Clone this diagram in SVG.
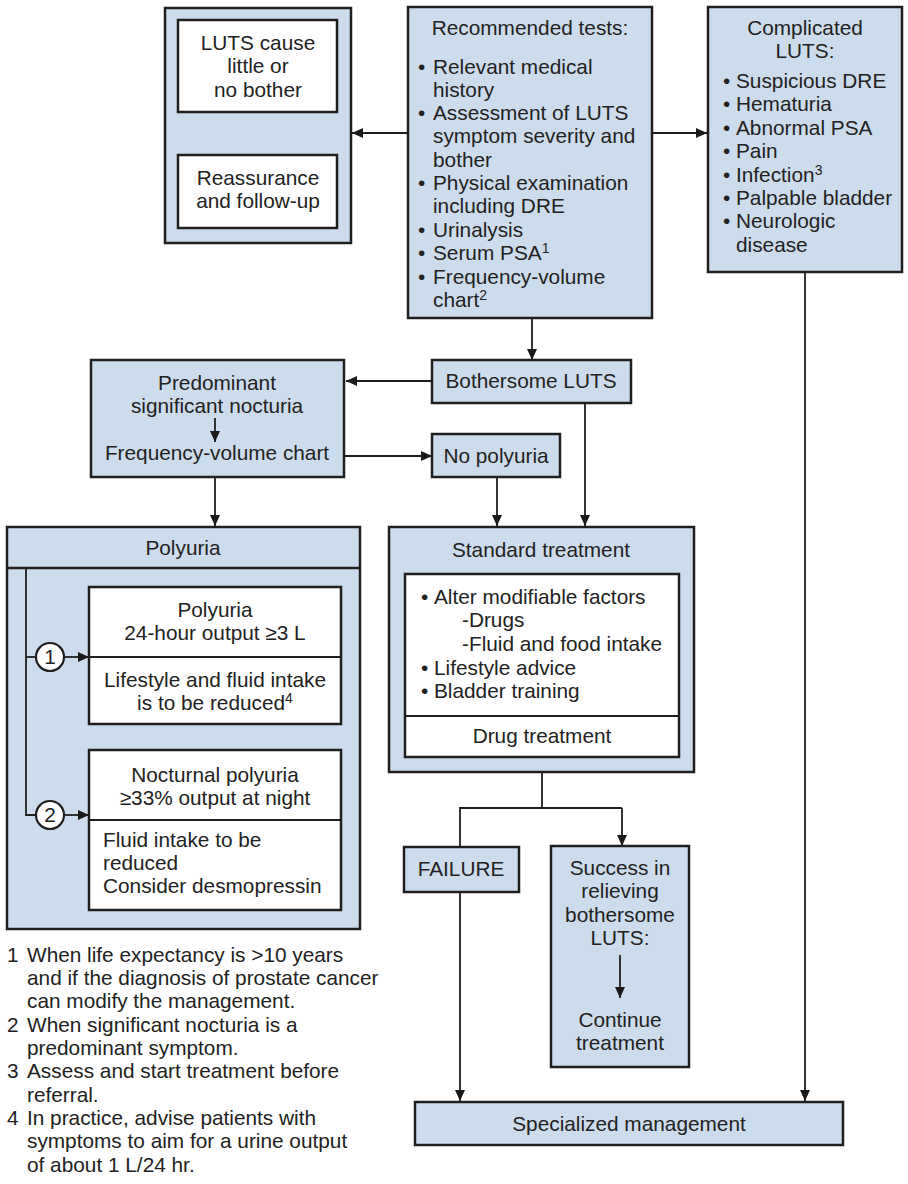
<svg xmlns="http://www.w3.org/2000/svg" width="908" height="1184" viewBox="0 0 908 1184">
<defs>
<marker id="ah" markerUnits="userSpaceOnUse" markerWidth="11" markerHeight="10" refX="11" refY="5" orient="auto">
<path d="M0,0 L11,5 L0,10 z" fill="#1a1a1a"/>
</marker>
<style>
.bx{fill:#cddcec;stroke:#1f1f1f;stroke-width:2.5}
.wb{fill:#ffffff;stroke:#1f1f1f;stroke-width:2.5}
.ln{fill:none;stroke:#1f1f1f;stroke-width:1.8}
.ar{fill:none;stroke:#1f1f1f;stroke-width:1.8;marker-end:url(#ah)}
text{font-family:"Liberation Sans",Arial,sans-serif;font-size:20.8px;fill:#222}
.c{text-anchor:middle}
.sup{font-size:14px}
</style>
</defs>
<rect width="908" height="1184" fill="#ffffff"/>

<g id="connectors">
<line class="ar" x1="408" y1="133" x2="352" y2="133"/>
<line class="ar" x1="652" y1="133" x2="707" y2="133"/>
<line class="ar" x1="258" y1="112" x2="258" y2="155"/>
<line class="ar" x1="532" y1="318" x2="532" y2="360"/>
<line class="ar" x1="432" y1="381" x2="346" y2="381"/>
<line class="ar" x1="344" y1="456" x2="432" y2="456"/>
<line class="ar" x1="215" y1="477" x2="215" y2="526"/>
<line class="ar" x1="497" y1="477" x2="497" y2="526"/>
<line class="ar" x1="585" y1="403" x2="585" y2="526"/>
<line class="ar" x1="805" y1="272" x2="805" y2="1101"/>
<polyline class="ln" points="542,772 542,808"/>
<polyline class="ln" points="460,847 460,808 622,808"/>
<line class="ar" x1="622" y1="808" x2="622" y2="846"/>
<line class="ar" x1="460" y1="892" x2="460" y2="1101"/>
</g>

<g id="no-bother">
<rect class="bx" x="165" y="8" width="186" height="235"/>
<rect class="wb" x="178" y="20" width="159" height="92"/>
<text class="c" x="258" y="50">LUTS cause</text>
<text class="c" x="258" y="73">little or</text>
<text class="c" x="258" y="97">no bother</text>
<rect class="wb" x="178" y="155" width="159" height="73"/>
<text class="c" x="258" y="185">Reassurance</text>
<text class="c" x="258" y="208">and follow-up</text>
</g>

<g id="recommended-tests">
<rect class="bx" x="408" y="7" width="244" height="311"/>
<text class="c" x="530" y="35">Recommended tests:</text>
<text x="418" y="74">•</text><text x="433" y="74">Relevant medical</text>
<text x="433" y="97">history</text>
<text x="418" y="120">•</text><text x="433" y="120">Assessment of LUTS</text>
<text x="433" y="143">symptom severity and</text>
<text x="433" y="167">bother</text>
<text x="418" y="190">•</text><text x="433" y="190">Physical examination</text>
<text x="433" y="213">including DRE</text>
<text x="418" y="237">•</text><text x="433" y="237">Urinalysis</text>
<text x="418" y="260">•</text><text x="433" y="260">Serum PSA<tspan class="sup" dy="-7">1</tspan></text>
<text x="418" y="284">•</text><text x="433" y="284">Frequency-volume</text>
<text x="433" y="307">chart<tspan class="sup" dy="-7">2</tspan></text>
</g>

<g id="complicated-luts">
<rect class="bx" x="708" y="7" width="194" height="265"/>
<text class="c" x="805" y="35">Complicated</text>
<text class="c" x="805" y="58">LUTS:</text>
<text x="723" y="88">•</text><text x="736" y="88">Suspicious DRE</text>
<text x="723" y="111">•</text><text x="736" y="111">Hematuria</text>
<text x="723" y="135">•</text><text x="736" y="135">Abnormal PSA</text>
<text x="723" y="158">•</text><text x="736" y="158">Pain</text>
<text x="723" y="182">•</text><text x="736" y="182">Infection<tspan class="sup" dy="-7">3</tspan></text>
<text x="723" y="205">•</text><text x="736" y="205">Palpable bladder</text>
<text x="723" y="228">•</text><text x="736" y="228">Neurologic</text>
<text x="736" y="252">disease</text>
</g>

<g id="bothersome-luts">
<rect class="bx" x="432" y="360" width="199" height="43"/>
<text class="c" x="531" y="388">Bothersome LUTS</text>
</g>

<g id="nocturia">
<rect class="bx" x="91" y="360" width="253" height="117"/>
<text class="c" x="217" y="390">Predominant</text>
<text class="c" x="217" y="413">significant nocturia</text>
<line class="ar" x1="215" y1="418" x2="215" y2="442"/>
<text class="c" x="217" y="460">Frequency-volume chart</text>
</g>

<g id="no-polyuria">
<rect class="bx" x="432" y="434" width="128" height="43"/>
<text class="c" x="496" y="463">No polyuria</text>
</g>

<g id="polyuria">
<rect class="bx" x="7" y="527" width="353" height="402"/>
<line class="ln" x1="7" y1="568" x2="360" y2="568" style="stroke-width:2.5"/>
<text class="c" x="183" y="555">Polyuria</text>
<polyline class="ln" points="26,568 26,815 36,815"/>
<line class="ln" x1="26" y1="657" x2="36" y2="657"/>
<circle cx="50" cy="657" r="14" fill="#ffffff" stroke="#1f1f1f" stroke-width="2.2"/>
<text class="c" x="50" y="664">1</text>
<line class="ar" x1="64" y1="657" x2="89" y2="657"/>
<circle cx="50" cy="815" r="14" fill="#ffffff" stroke="#1f1f1f" stroke-width="2.2"/>
<text class="c" x="50" y="822">2</text>
<line class="ar" x1="64" y1="815" x2="89" y2="815"/>
<rect class="wb" x="89" y="587" width="252" height="137"/>
<line class="ln" x1="89" y1="657" x2="341" y2="657" style="stroke-width:2.2"/>
<text class="c" x="215" y="617">Polyuria</text>
<text class="c" x="215" y="640">24-hour output ≥3 L</text>
<text class="c" x="215" y="687">Lifestyle and fluid intake</text>
<text class="c" x="215" y="710">is to be reduced<tspan class="sup" dy="-7">4</tspan></text>
<rect class="wb" x="89" y="750" width="252" height="160"/>
<line class="ln" x1="89" y1="820" x2="341" y2="820" style="stroke-width:2.2"/>
<text class="c" x="215" y="782">Nocturnal polyuria</text>
<text class="c" x="215" y="805">≥33% output at night</text>
<text x="103" y="847">Fluid intake to be</text>
<text x="103" y="870">reduced</text>
<text x="103" y="893">Consider desmopressin</text>
</g>

<g id="standard-treatment">
<rect class="bx" x="389" y="527" width="305" height="245"/>
<text class="c" x="541" y="557">Standard treatment</text>
<rect class="wb" x="405" y="574" width="274" height="183"/>
<line class="ln" x1="405" y1="716" x2="679" y2="716" style="stroke-width:2.2"/>
<text x="421" y="604">•</text><text x="434" y="604">Alter modifiable factors</text>
<text x="462" y="627">-Drugs</text>
<text x="462" y="651">-Fluid and food intake</text>
<text x="421" y="675">•</text><text x="434" y="675">Lifestyle advice</text>
<text x="421" y="698">•</text><text x="434" y="698">Bladder training</text>
<text class="c" x="542" y="743">Drug treatment</text>
</g>

<g id="failure">
<rect class="bx" x="404" y="847" width="115" height="45"/>
<text class="c" x="461" y="876">FAILURE</text>
</g>

<g id="success">
<rect class="bx" x="551" y="846" width="138" height="221"/>
<text class="c" x="620" y="875">Success in</text>
<text class="c" x="620" y="898">relieving</text>
<text class="c" x="620" y="922">bothersome</text>
<text class="c" x="620" y="945">LUTS:</text>
<line class="ar" x1="620" y1="955" x2="620" y2="998"/>
<text class="c" x="620" y="1027">Continue</text>
<text class="c" x="620" y="1050">treatment</text>
</g>

<g id="specialized-management">
<rect class="bx" x="415" y="1102" width="428" height="43"/>
<text class="c" x="629" y="1131">Specialized management</text>
</g>

<g id="footnotes">
<text x="7" y="962">1</text><text x="27" y="962">When life expectancy is &gt;10 years</text>
<text x="27" y="985">and if the diagnosis of prostate cancer</text>
<text x="27" y="1008">can modify the management.</text>
<text x="7" y="1032">2</text><text x="27" y="1032">When significant nocturia is a</text>
<text x="27" y="1055">predominant symptom.</text>
<text x="7" y="1078">3</text><text x="27" y="1078">Assess and start treatment before</text>
<text x="27" y="1102">referral.</text>
<text x="7" y="1125">4</text><text x="27" y="1125">In practice, advise patients with</text>
<text x="27" y="1148">symptoms to aim for a urine output</text>
<text x="27" y="1172">of about 1 L/24 hr.</text>
</g>
</svg>
